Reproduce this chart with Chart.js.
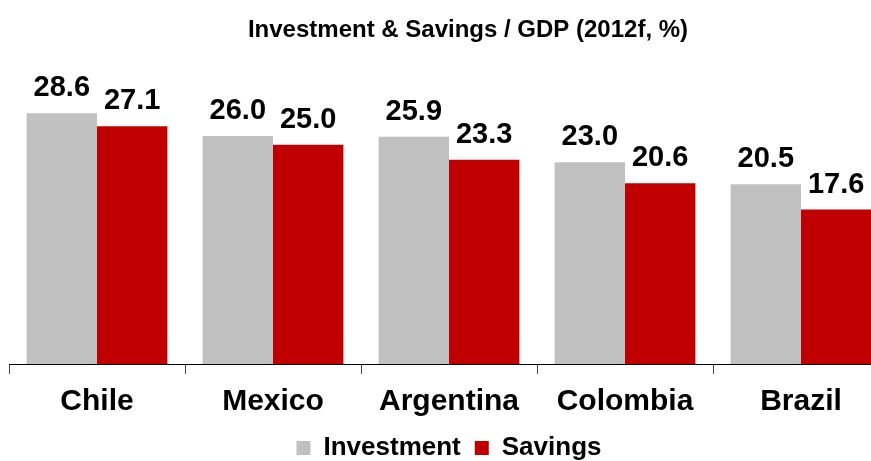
<!DOCTYPE html>
<html>
<head>
<meta charset="utf-8">
<script src="https://cdn.jsdelivr.net/npm/chart.js@4"></script>
<style>
  html, body { margin: 0; padding: 0; background: #fff; overflow: hidden; }
  #wrap { width: 900px; height: 471px; position: relative; }
</style>
</head>
<body>
<div id="wrap"><canvas id="chart"></canvas></div>
<script>
  "use strict";

  const countries = ["Chile", "Mexico", "Argentina", "Colombia", "Brazil"];
  const investment = [28.6, 26.0, 25.9, 23.0, 20.5];
  const savings = [27.1, 25.0, 23.3, 20.6, 17.6];
  const titleText = "Investment & Savings / GDP (2012f, %)";

  const FONT = "'Liberation Sans', Arial, sans-serif";

  // value labels above each bar, plus the title a bit right of centre
  const extras = {
    id: "extras",
    afterDatasetsDraw(chart) {
      let ctx = chart.ctx;
      ctx.save();
      ctx.fillStyle = "#000";
      ctx.textAlign = "center";
      ctx.textBaseline = "alphabetic";
      ctx.font = "bold 29px " + FONT;
      chart.data.datasets.forEach((ds, i) => {
        chart.getDatasetMeta(i).data.forEach((bar, j) => {
          ctx.fillText(ds.data[j].toFixed(1), bar.x, bar.y - 17);
        });
      });
      ctx.font = "bold 24px " + FONT;
      ctx.fillText(titleText, 468, 37);
      ctx.restore();
    }
  };

  new Chart(document.getElementById("chart"), {
    type: "bar",
    data: {
      labels: countries,
      datasets: [
        {
          label: "Investment",
          data: investment,
          backgroundColor: "#C0C0C0",
          categoryPercentage: 0.8,
          barPercentage: 1.0
        },
        {
          label: "Savings",
          data: savings,
          backgroundColor: "#C00000",
          categoryPercentage: 0.8,
          barPercentage: 1.0
        }
      ]
    },
    options: {
      responsive: true,
      maintainAspectRatio: false,
      animation: false,
      layout: {
        padding: { left: 9, right: 11, top: 57, bottom: 0 }
      },
      plugins: {
        legend: {
          position: "bottom",
          labels: {
            color: "#000",
            boxWidth: 14,
            boxHeight: 14,
            padding: 14,
            font: { family: FONT, size: 26, weight: "bold" }
          }
        },
        tooltip: { enabled: false }
      },
      scales: {
        x: {
          grid: {
            offset: true,
            drawOnChartArea: false,
            tickLength: 10,
            color: "#404040"
          },
          border: { color: "#000", width: 1 },
          ticks: {
            color: "#000",
            padding: 10,
            font: { family: FONT, size: 30, weight: "bold" }
          },
          afterFit(scale) {
            // pull the axis band in so the baseline sits lower
            scale.height -= 9;
          }
        },
        y: {
          display: false,
          min: 0,
          max: 35
        }
      }
    },
    plugins: [extras]
  });
</script>
</body>
</html>
